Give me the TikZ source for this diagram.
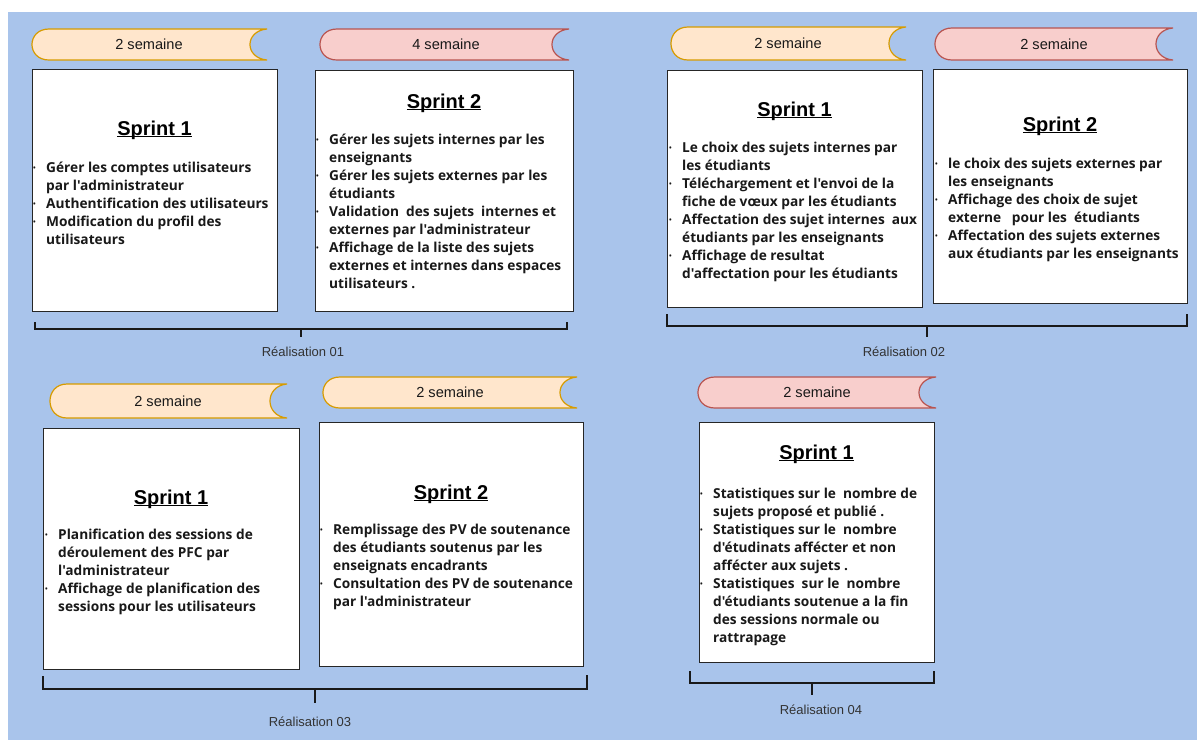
\documentclass[tikz,border=0pt]{standalone}
\usepackage{fontspec,array}
\setmainfont{Liberation Sans}
\newfontfamily\taskfont{Open Sans}

\definecolor{bgblue}{HTML}{A9C4EB}
\definecolor{orfill}{HTML}{FFE6CC}
\definecolor{ordraw}{HTML}{D79B00}
\definecolor{rdfill}{HTML}{F8CECC}
\definecolor{rddraw}{HTML}{B85450}

\tikzset{
  sprintbox/.style={draw=black!85, fill=white, line width=0.9pt, anchor=north west, inner sep=0pt},
  taborange/.style={draw=ordraw, fill=orfill, line width=1.2pt},
  tabred/.style={draw=rddraw, fill=rdfill, line width=1.2pt},
  tabtext/.style={inner sep=0pt, text=black!90, font=\fontsize{14.6}{16}\selectfont},
  sprinttitle/.style={anchor=base, inner sep=0pt, font=\fontsize{20}{24}\selectfont\bfseries},
  tasklist/.style={anchor=base west, inner sep=0pt, text=black!90, font=\taskfont\fontsize{13.7}{18}\selectfont\bfseries},
  realis/.style={inner sep=0pt, text=black!80, font=\fontsize{13}{15}\selectfont},
  bracket/.style={line width=1.4pt, draw=black!90},
}

% week tab: name, style, left, top, right, bottom, text x, text
\newcommand{\semtab}[8]{%
  \path[#2] (#3+17,#4) -- (#5,#4)
    .. controls (#5-22.7,#4+2) and (#5-22.7,#6-2) .. (#5,#6)
    -- (#3+17,#6) .. controls (#3-5.7,#6) and (#3-5.7,#4) .. (#3+17,#4) -- cycle;
  \node[tabtext] (#1) at (#7,{(#4+#6)/2}) {#8};
}
\newcommand{\sprintname}[1]{\setbox0\hbox{#1}\rlap{\rule[-2.4pt]{\wd0}{1.3pt}}\box0}
\newcommand{\bl}{\raisebox{1.5pt}{\fontsize{7}{7}\selectfont\textbullet}}
\newenvironment{tasks}{\begin{tabular}[t]{@{}p{13pt}@{}l@{}}}{\end{tabular}}

\begin{document}
\begin{tikzpicture}[x=1pt,y=-1pt]
\path[use as bounding box] (0,0) rectangle (1197,740);
\fill[white] (0,0) rectangle (1197,740);
\fill[bgblue] (8,12) rectangle (1197,740);

% Realisation 01
\semtab{t11}{taborange}{32}{29}{267}{60}{149}{2 semaine}
\semtab{t12}{tabred}{320}{29}{569}{60}{446}{4 semaine}
\node[sprintbox, minimum width=245, minimum height=242] (s11) at (32,69) {};
\node[sprintbox, minimum width=258, minimum height=241] (s12) at (315,70) {};
\node[sprinttitle] (n11) at (154.5,135) {\sprintname{Sprint 1}};
\node[tasklist] (l11) at (33,172) {\begin{tasks}
\bl & Gérer les comptes utilisateurs\\
    & par l'administrateur\\
\bl & Authentification des utilisateurs\\
\bl & Modification du profil des\\
    & utilisateurs
\end{tasks}};
\node[sprinttitle] (n12) at (444,108) {\sprintname{Sprint 2}};
\node[tasklist] (l12) at (316,144) {\begin{tasks}
\bl & Gérer les sujets internes par les\\
    & enseignants\\
\bl & Gérer les sujets externes par les\\
    & étudiants\\
\bl & Validation\ \ des sujets\ \ internes et\\
    & externes par l'administrateur\\
\bl & Affichage de la liste des sujets\\
    & externes et internes dans espaces\\
    & utilisateurs .
\end{tasks}};
\draw[bracket] (35,322) -- (35,329) -- (567,329) -- (567,322);
\draw[bracket] (301,329) -- (301,337);
\node[realis] (r1) at (303,352) {Réalisation 01};

% Realisation 02
\semtab{t21}{taborange}{671}{27}{906}{60}{788}{2 semaine}
\semtab{t22}{tabred}{935}{28}{1173}{60}{1054}{2 semaine}
\node[sprintbox, minimum width=255, minimum height=237] (s21) at (667,70) {};
\node[sprintbox, minimum width=254, minimum height=234] (s22) at (933,69) {};
\node[sprinttitle] (n21) at (794.5,116) {\sprintname{Sprint 1}};
\node[tasklist] (l21) at (669,152) {\begin{tasks}
\bl & Le choix des sujets internes par\\
    & les étudiants\\
\bl & Téléchargement et l'envoi de la\\
    & fiche de vœux par les étudiants\\
\bl & Affectation des sujet internes\ \ aux\\
    & étudiants par les enseignants\\
\bl & Affichage de resultat\\
    & d'affectation pour les étudiants
\end{tasks}};
\node[sprinttitle] (n22) at (1060,131) {\sprintname{Sprint 2}};
\node[tasklist] (l22) at (935,168) {\begin{tasks}
\bl & le choix des sujets externes par\\
    & les enseignants\\
\bl & Affichage des choix de sujet\\
    & externe\ \ \ pour les\ \ étudiants\\
\bl & Affectation des sujets externes\\
    & aux étudiants par les enseignants
\end{tasks}};
\draw[bracket] (667,314) -- (667,326) -- (1187,326) -- (1187,314);
\draw[bracket] (927,326) -- (927,337);
\node[realis] (r2) at (904,352) {Réalisation 02};

% Realisation 03
\semtab{t31}{taborange}{50}{384}{287}{418}{168}{2 semaine}
\semtab{t32}{taborange}{323}{377}{577}{408}{450}{2 semaine}
\node[sprintbox, minimum width=256, minimum height=241] (s31) at (43,428) {};
\node[sprintbox, minimum width=264, minimum height=244] (s32) at (319,422) {};
\node[sprinttitle] (n31) at (171,504) {\sprintname{Sprint 1}};
\node[tasklist] (l31) at (45,539) {\begin{tasks}
\bl & Planification des sessions de\\
    & déroulement des PFC par\\
    & l'administrateur\\
\bl & Affichage de planification des\\
    & sessions pour les utilisateurs
\end{tasks}};
\node[sprinttitle] (n32) at (451,499) {\sprintname{Sprint 2}};
\node[tasklist] (l32) at (320,534) {\begin{tasks}
\bl & Remplissage des PV de soutenance\\
    & des étudiants soutenus par les\\
    & enseignats encadrants\\
\bl & Consultation des PV de soutenance\\
    & par l'administrateur
\end{tasks}};
\draw[bracket] (43,676) -- (43,689) -- (587,689) -- (587,675);
\draw[bracket] (315,689) -- (315,703);
\node[realis] (r3) at (310,722) {Réalisation 03};

% Realisation 04
\semtab{t41}{tabred}{698}{377}{936}{408}{817}{2 semaine}
\node[sprintbox, minimum width=235, minimum height=240] (s41) at (699,422) {};
\node[sprinttitle] (n41) at (816.5,459) {\sprintname{Sprint 1}};
\node[tasklist] (l41) at (700,498) {\begin{tasks}
\bl & Statistiques sur le\ \ nombre de\\
    & sujets proposé et publié .\\
\bl & Statistiques sur le\ \ nombre\\
    & d'étudinats affécter et non\\
    & affécter aux sujets .\\
\bl & Statistiques\ \ sur le\ \ nombre\\
    & d'étudiants soutenue a la fin\\
    & des sessions normale ou\\
    & rattrapage
\end{tasks}};
\draw[bracket] (690,671) -- (690,683) -- (934,683) -- (934,671);
\draw[bracket] (812,683) -- (812,695);
\node[realis] (r4) at (821,710) {Réalisation 04};
\end{tikzpicture}
\end{document}
